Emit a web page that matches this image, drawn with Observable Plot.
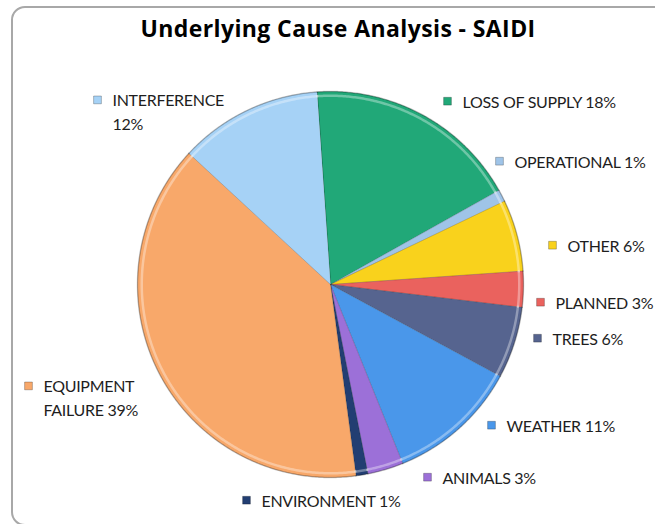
<!DOCTYPE html>
<html>
<head>
<meta charset="utf-8">
<script src="https://cdn.jsdelivr.net/npm/d3@7"></script>
<script src="https://cdn.jsdelivr.net/npm/@observablehq/plot@0.6"></script>
<style>
  html, body { margin: 0; padding: 0; background: #fff; overflow: hidden; }
  #page { position: relative; width: 655px; height: 524px; overflow: hidden; }
  #frame { position: absolute; left: 11px; top: 6px; width: 720px; height: 520px;
           border: 2px solid #a8a8a8; border-radius: 14px; box-sizing: border-box; }
  #title { position: absolute; left: 0; top: 0; width: 676px; height: 52px; box-sizing: border-box;
           padding-top: 14px; line-height: 28px; text-align: center; letter-spacing: 0.4px;
           font-family: "Open Sans", Lato, sans-serif; font-weight: bold; font-size: 23px; color: #000; }
  #chart { position: absolute; left: 0; top: 52px; }
  #chart text { letter-spacing: -0.3px; }
</style>
</head>
<body>
<div id="page">
  <div id="frame"></div>
  <div id="title">Underlying Cause Analysis - SAIDI</div>
  <div id="chart"></div>
</div>
<script>
// ---- data (clockwise from the top) ----
const causes = ["LOSS OF SUPPLY", "OPERATIONAL", "OTHER", "PLANNED", "TREES",
                "WEATHER", "ANIMALS", "ENVIRONMENT", "EQUIPMENT FAILURE", "INTERFERENCE"];
const shares = [18, 1, 6, 3, 6, 11, 3, 1, 39, 12];
const colors = ["#21A878", "#9FC4E8", "#F9D21C", "#EA625E", "#56648F",
                "#4A97EA", "#9C70D8", "#223E72", "#F8A86A", "#A6D2F6"];

// ---- layout ----
const W = 655, H = 472, TOP = 52;
const cx = 330, cy = 284 - TOP, R = 193;
const startAngle = -4;          // degrees, clockwise from 12 o'clock
const fontSize = 16, lineH = 23.3;
// label text-left x, last-line baseline y (page px), optional line break
const labelLayout = [
  {at: [462, 107]},
  {at: [514, 167]},
  {at: [567, 251]},
  {at: [555, 308]},
  {at: [552, 344]},
  {at: [506, 431]},
  {at: [442, 483]},
  {at: [261, 506]},
  {at: [43, 415], breakAfter: "EQUIPMENT"},
  {at: [112, 129], breakAfter: "INTERFERENCE"}
];

const total = d3.sum(shares);
let acc = 0;
const arcs = causes.map((cause, i) => {
  const a0 = startAngle + acc / total * 360;
  acc += shares[i];
  const a1 = startAngle + acc / total * 360;
  return {cause, share: shares[i], a0, a1};
});
const polar = (deg, k = 1) => [k * Math.sin(deg * Math.PI / 180), k * Math.cos(deg * Math.PI / 180)];

function arcPoints(a, k, withCenter) {
  const n = Math.max(2, Math.ceil((a.a1 - a.a0) / 0.5));
  const pts = withCenter ? [{cause: a.cause, x: 0, y: 0}] : [];
  for (let j = 0; j <= n; j++) {
    const [x, y] = polar(a.a0 + (a.a1 - a.a0) * j / n, k);
    pts.push({cause: a.cause, x, y});
  }
  return pts;
}
const slicePts = arcs.flatMap(a => arcPoints(a, 1, true));
const rimPts = arcs.flatMap(a => arcPoints(a, 1, false));
const glowPts = arcs.flatMap(a => arcPoints(a, 0.978, false));

// page px -> data units
const ux = X => (X - cx) / R;
const uy = Y => (cy - (Y - TOP)) / R;

const labelData = arcs.map((a, i) => {
  const L = labelLayout[i];
  let text = `${a.cause} ${a.share}%`;
  let lines = 1;
  if (L.breakAfter) { text = text.replace(L.breakAfter + " ", L.breakAfter + "\n"); lines = 2; }
  const [X, Y] = L.at;
  const firstBase = Y - (lines - 1) * lineH;
  return {cause: a.cause, text, x: ux(X), y: uy(Y), sx: ux(X - 15), sy: uy(firstBase - 6.3)};
});

const chart = Plot.plot({
  width: W, height: H, margin: 0,
  x: {domain: [-1, 1], range: [cx - R, cx + R], axis: null},
  y: {domain: [-1, 1], range: [cy + R, cy - R], axis: null},
  color: {domain: causes, range: colors},
  style: {background: "transparent"},
  marks: [
    Plot.line(slicePts, {x: "x", y: "y", z: "cause", fill: "cause", curve: "linear-closed",
      stroke: "rgba(0,0,0,0.22)", strokeWidth: 0.8}),
    Plot.line(glowPts, {x: "x", y: "y", z: "cause", stroke: "rgba(255,255,255,0.35)", strokeWidth: 2.5}),
    Plot.line(rimPts, {x: "x", y: "y", z: "cause", stroke: "rgba(0,0,0,0.18)", strokeWidth: 1.5}),
    Plot.dot(labelData, {x: "sx", y: "sy", symbol: "square", r: 4.4, fill: "cause",
      stroke: "rgba(0,0,0,0.35)", strokeWidth: 0.7}),
    Plot.text(labelData, {x: "x", y: "y", text: "text", textAnchor: "start", lineAnchor: "bottom",
      lineHeight: lineH / fontSize, fontSize, fontFamily: "Lato, 'Open Sans', sans-serif", fill: "#1e1e1e"})
  ]
});
document.getElementById("chart").appendChild(chart);
</script>
</body>
</html>
